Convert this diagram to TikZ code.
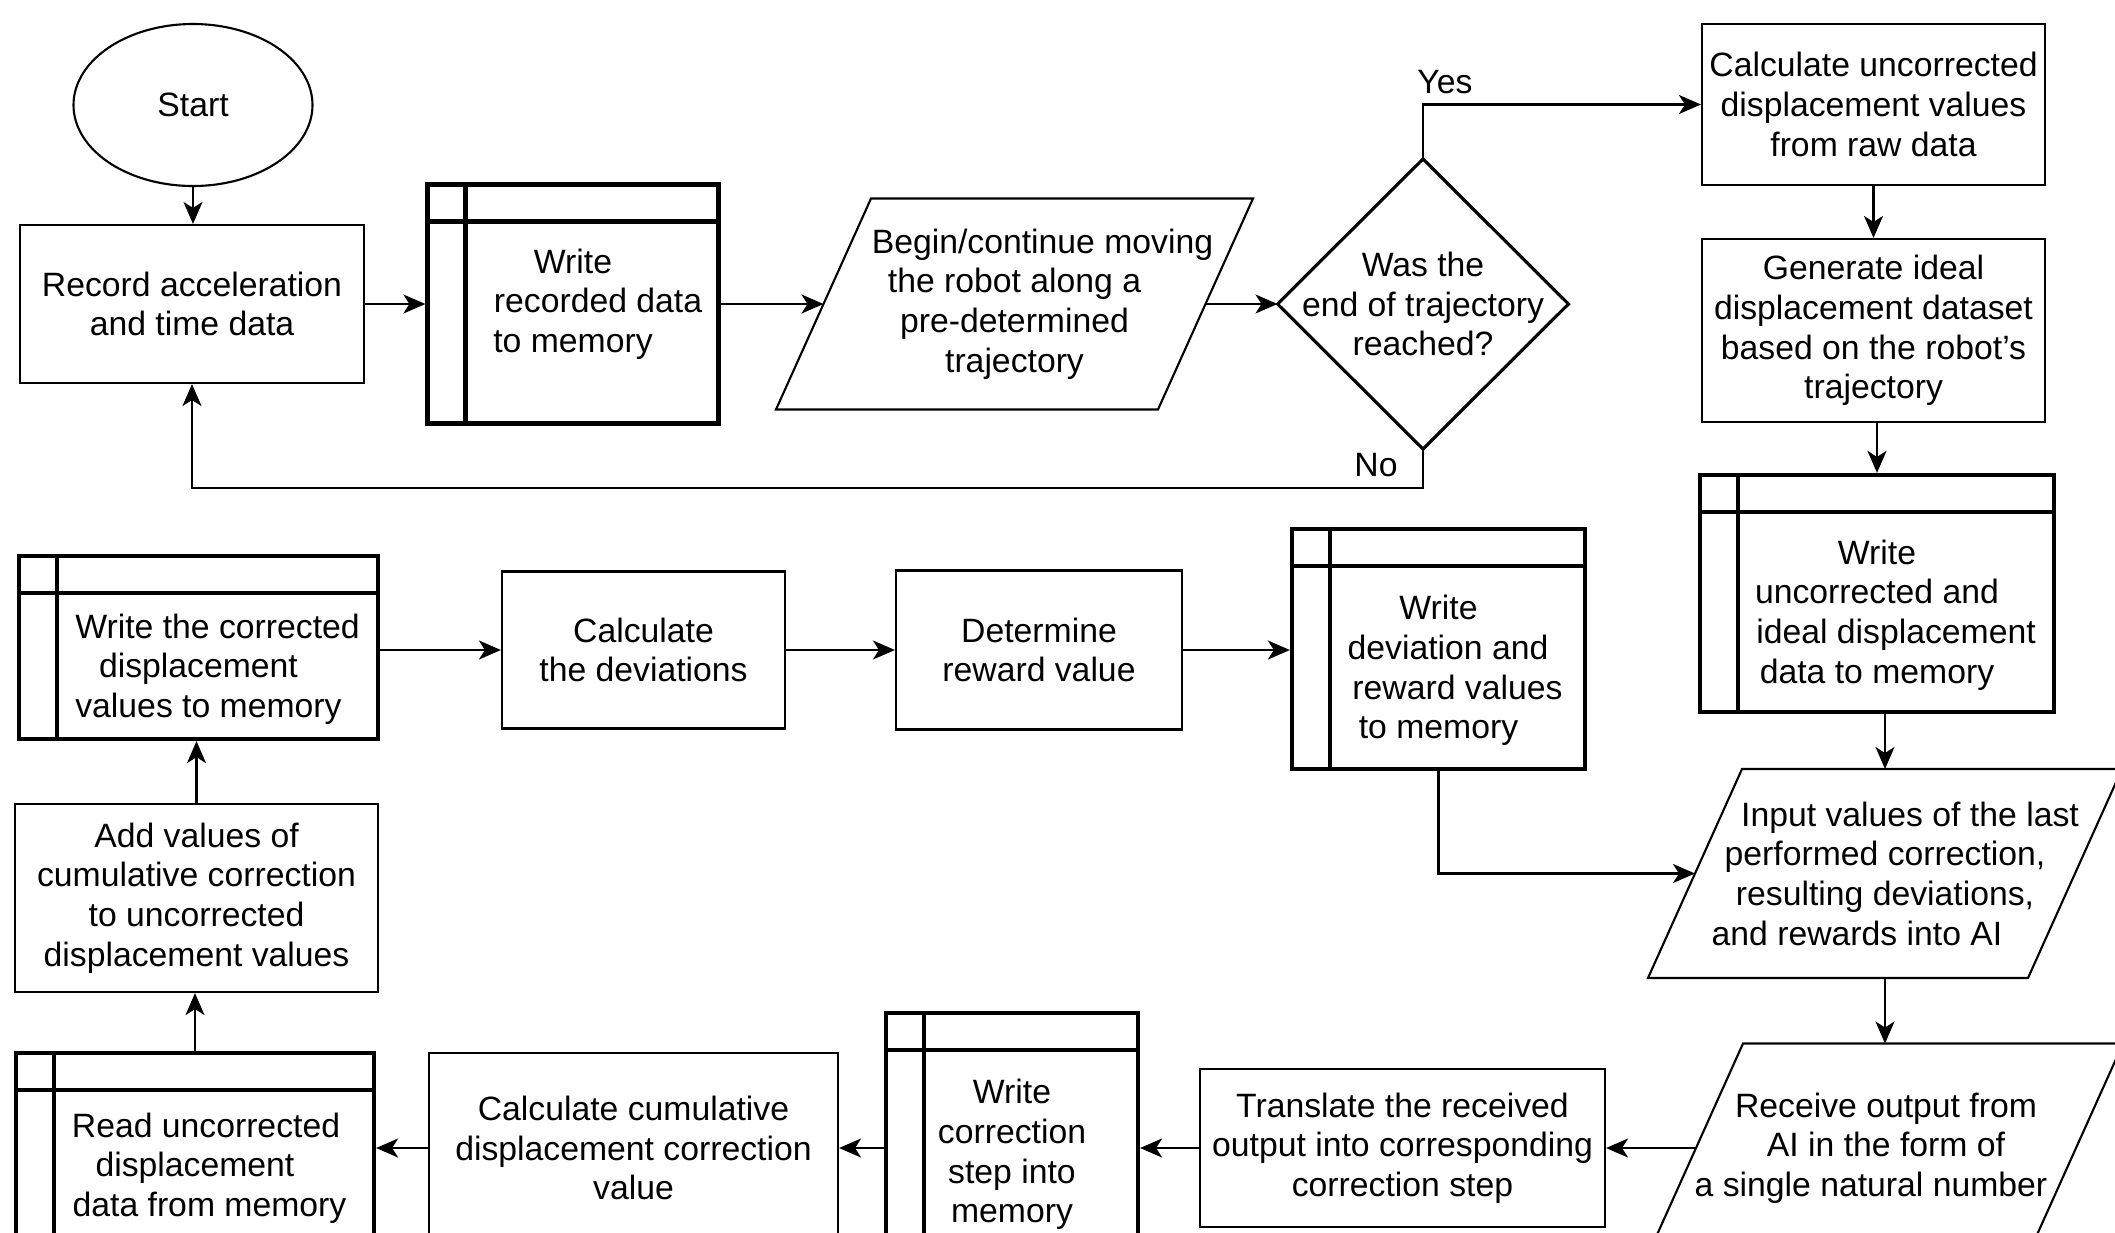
\documentclass[tikz,border=0pt]{standalone}
\usepackage{fontspec}
\setmainfont{Liberation Sans}
\usetikzlibrary{arrows.meta, shapes.geometric}

\begin{document}
\begin{tikzpicture}[
  font=\fontsize{9.6pt}{11.3pt}\selectfont,
  box/.style={rectangle, draw, line width=0.6pt, align=center, inner sep=1pt},
  mem/.style={rectangle, draw, line width=1.2pt, align=center, inner sep=1pt},
  para/.style={rectangle, align=center, inner sep=0pt, outer sep=0pt},
  decision/.style={rectangle, align=center, inner sep=0pt, outer sep=0pt},
  terminal/.style={ellipse, draw, line width=0.6pt},
  lbl/.style={inner sep=0pt},
  link/.style={line width=0.6pt},
  arrow/.style={-{Stealth[length=2.2mm, width=1.9mm, inset=0.6mm]}, line width=0.6pt}
]
\useasboundingbox (0,0) rectangle (21.15,-12.32);
\clip (0,0) rectangle (21.15,-12.32);

% top row: recording loop
\node[terminal, minimum width=2.39cm, minimum height=1.62cm] (start) at (1.93,-1.05) {Start};
\node[box, minimum width=3.44cm, minimum height=1.58cm] (rec) at (1.92,-3.04)
  {Record acceleration\\and time data};
\node[mem, minimum width=2.91cm, minimum height=2.39cm] (wrec) at (5.73,-3.04)
  {Write\\\hspace*{0.5cm}recorded data\\to memory};
\node[para, minimum width=4.77cm, minimum height=2.11cm] (move) at (10.145,-3.04)
  {\hspace*{0.56cm}Begin/continue moving\\the robot along a\\pre-determined\\trajectory};
\node[decision, minimum width=2.91cm, minimum height=2.90cm] (dia) at (14.23,-3.04)
  {Was the\\end of trajectory\\reached?};
\node[lbl] (yes) at (14.45,-0.82) {Yes};
\node[lbl] (no) at (13.76,-4.65) {No};

% right column
\node[box, minimum width=3.43cm, minimum height=1.61cm] (calcu) at (18.735,-1.045)
  {Calculate uncorrected\\displacement values\\from raw data};
\node[box, minimum width=3.43cm, minimum height=1.83cm] (gen) at (18.735,-3.305)
  {Generate ideal\\displacement dataset\\based on the robot's\\trajectory};
\node[mem, minimum width=3.54cm, minimum height=2.37cm] (wideal) at (18.77,-5.935)
  {\strut\\Write\\uncorrected and\\\hspace*{0.38cm}ideal displacement\\data to memory};
\node[para, minimum width=4.74cm, minimum height=2.09cm] (inval) at (18.85,-8.735)
  {\hspace*{0.5cm}Input values of the last\\performed correction,\\resulting deviations,\\and rewards into AI\hspace*{0.56cm}};
\node[para, minimum width=4.74cm, minimum height=2.09cm] (recv) at (18.86,-11.48)
  {Receive output from\\AI in the form of\\a single natural number\hspace*{0.3cm}};

% middle row
\node[mem, minimum width=3.59cm, minimum height=1.83cm] (wcorr) at (1.985,-6.475)
  {\strut\\\hspace*{0.38cm}Write the corrected\\displacement\\\hspace*{0.2cm}values to memory};
\node[box, minimum width=2.83cm, minimum height=1.57cm] (cdev) at (6.435,-6.50)
  {Calculate\\the deviations};
\node[box, minimum width=2.86cm, minimum height=1.59cm] (det) at (10.39,-6.50)
  {Determine\\reward value};
\node[mem, minimum width=2.93cm, minimum height=2.40cm] (wdev) at (14.385,-6.49)
  {\strut\\Write\\\hspace*{0.19cm}deviation and\\\hspace*{0.38cm}reward values\\to memory};

% bottom rows
\node[box, minimum width=3.63cm, minimum height=1.88cm] (addv) at (1.965,-8.98)
  {Add values of\\cumulative correction\\to uncorrected\\displacement values};
\node[mem, minimum width=3.58cm, minimum height=2.30cm] (rread) at (1.95,-11.68)
  {\hspace*{0.22cm}Read uncorrected\\displacement\\\hspace*{0.29cm}data from memory};
\node[box, minimum width=4.09cm, minimum height=1.90cm] (ccum) at (6.335,-11.48)
  {Calculate cumulative\\displacement correction\\value};
\node[mem, minimum width=2.52cm, minimum height=2.40cm] (wstep) at (10.12,-11.33)
  {\strut\\Write\\correction\\step into\\memory};
\node[box, minimum width=4.05cm, minimum height=1.58cm] (trans) at (14.025,-11.48)
  {Translate the received\\output into corresponding\\correction step};

% shapes drawn round the plain nodes
\foreach \m in {wrec,wideal,wdev,wcorr,rread,wstep}
  \draw[line width=1.2pt] ([xshift=0.4cm]\m.north west) -- ([xshift=0.4cm]\m.south west)
    ([yshift=-0.39cm]\m.north west) -- ([yshift=-0.39cm]\m.north east);
\foreach \p/\s in {move/0.95, inval/0.94, recv/0.94}
  \draw[link] ([xshift=\s cm]\p.north west) -- (\p.north east)
    -- ([xshift=-\s cm]\p.south east) -- (\p.south west) -- cycle;
\draw[line width=0.9pt] (dia.north) -- (dia.east) -- (dia.south) -- (dia.west) -- cycle;

% connectors
\draw[arrow] (start.south) -- (start.south |- rec.north);
\draw[arrow] (rec.east) -- (wrec.west);
\draw[arrow] (wrec.east) -- ([xshift=0.475cm]move.west);
\draw[arrow] ([xshift=-0.475cm]move.east) -- (dia.west);
\draw[arrow] (dia.north) |- (calcu.west);
\draw[arrow] (dia.south) -- ++(0,-0.39) -| (rec.south);
\draw[arrow] (calcu.south) -- (calcu.south |- gen.north);
\draw[arrow] (wideal.north |- gen.south) -- (wideal.north);
\draw[arrow] (inval.north |- wideal.south) -- (inval.north);
\draw[arrow] (inval.south) -- (inval.south |- recv.north);
\draw[arrow] (wdev.south) |- ([xshift=0.47cm]inval.west);
\draw[arrow] ([xshift=0.47cm]recv.west) -- (trans.east);
\draw[arrow] (trans.west) -- (trans.west -| wstep.east);
\draw[arrow] (ccum.east -| wstep.west) -- (ccum.east);
\draw[arrow] (ccum.west) -- (ccum.west -| rread.east);
\draw[arrow] (rread.north) -- (rread.north |- addv.south);
\draw[arrow] (addv.north) -- (addv.north |- wcorr.south);
\draw[arrow] (wcorr.east |- cdev.west) -- (cdev.west);
\draw[arrow] (cdev.east) -- (det.west);
\draw[arrow] (det.east) -- (det.east -| wdev.west);
\end{tikzpicture}
\end{document}
